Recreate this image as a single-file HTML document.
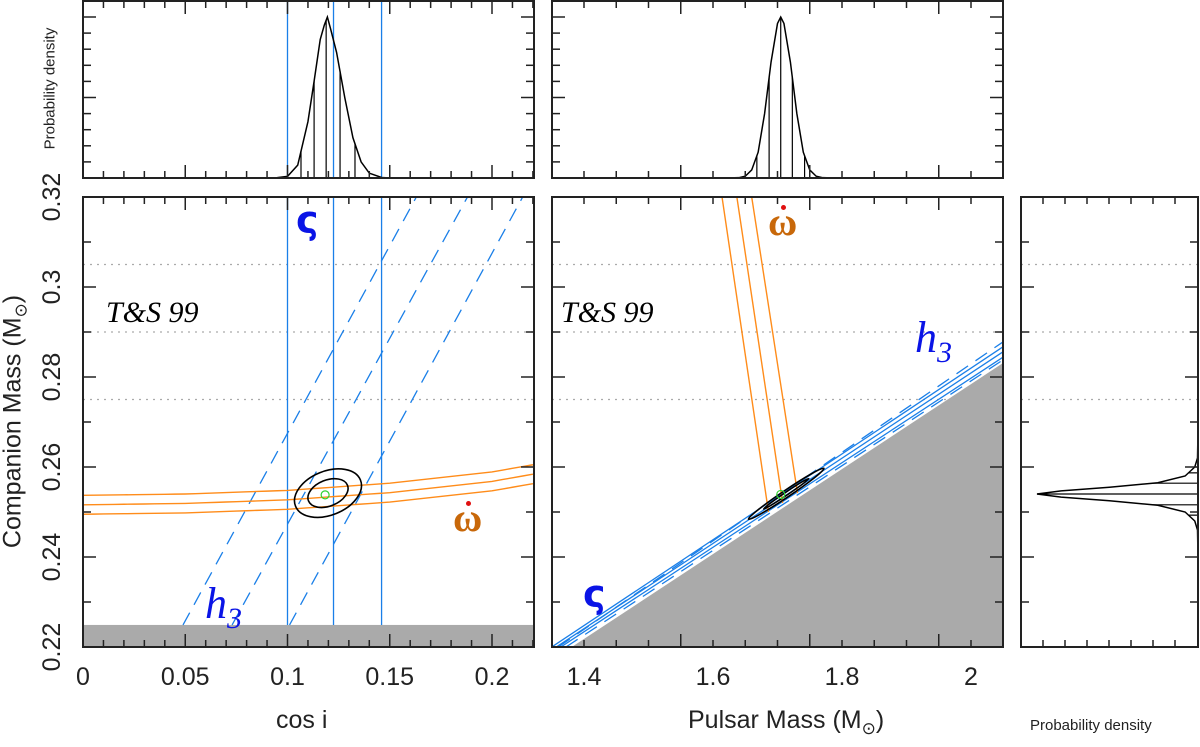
<!DOCTYPE html>
<html><head><meta charset="utf-8"><style>
html,body{margin:0;padding:0;background:#fff;width:1200px;height:747px;overflow:hidden;position:relative;}
svg{display:block;font-family:"Liberation Sans",sans-serif;}
</style></head><body>
<svg id="c" width="1200" height="747" viewBox="0 0 1200 747" xmlns="http://www.w3.org/2000/svg">
<defs>
<clipPath id="clipL"><rect x="83" y="197" width="451" height="450"/></clipPath>
<clipPath id="clipM"><rect x="552" y="197" width="451" height="450"/></clipPath>
</defs>
<g id="root"></g>
</svg>
<script>
// ---- data ----
const cosiTicks = [0, 0.05, 0.1, 0.15, 0.2];
const cosiTickLabels = ["0", "0.05", "0.1", "0.15", "0.2"];
const massTicks = [1.4, 1.6, 1.8, 2.0];
const massTickLabels = ["1.4", "1.6", "1.8", "2"];
const m2Ticks = [0.22, 0.24, 0.26, 0.28, 0.3, 0.32];
const m2TickLabels = ["0.22", "0.24", "0.26", "0.28", "0.3", "0.32"];
const t99Levels = [0.305, 0.29, 0.275];
const sigmaCosi = [0.1, 0.1225, 0.146];
const h3LeftBottom = [0.0489, 0.0729, 0.101];
const h3LeftTop = [0.163, 0.188, 0.215];
const omdotCosi = [0, 0.05, 0.1, 0.15, 0.2, 0.22];
const omdotM2Mid = [0.2516, 0.2519, 0.2527, 0.2543, 0.2568, 0.2584];
const omdotOffsets = [0.0021, 0, -0.0021];
const ellipseCenterCosi = 0.1198, ellipseCenterM2 = 0.2542;
const bestCosi = 0.1184, bestM2 = 0.2538;
const cosiPdfX = [0.09, 0.095, 0.1, 0.105, 0.11, 0.113, 0.116, 0.118, 0.1195, 0.121, 0.124, 0.128, 0.132, 0.136, 0.14, 0.146, 0.15];
const cosiPdfY = [0, 0.002, 0.01, 0.08, 0.35, 0.6, 0.86, 0.95, 1.0, 0.93, 0.78, 0.5, 0.25, 0.1, 0.03, 0.003, 0];
const cosiPdfLines = [0.1066, 0.1130, 0.1189, 0.1257, 0.1330];
const mpPdfX = [1.62, 1.64, 1.65, 1.66, 1.67, 1.68, 1.69, 1.70, 1.705, 1.71, 1.72, 1.73, 1.74, 1.75, 1.76, 1.77, 1.79];
const mpPdfY = [0, 0.002, 0.011, 0.05, 0.16, 0.40, 0.72, 0.96, 1.0, 0.96, 0.72, 0.40, 0.16, 0.05, 0.011, 0.002, 0];
const mpPdfLines = [1.668, 1.687, 1.705, 1.723, 1.742];
const m2PdfX = [0.240, 0.246, 0.248, 0.250, 0.2515, 0.2525, 0.2533, 0.254, 0.2547, 0.2555, 0.2565, 0.258, 0.260, 0.262, 0.268];
const m2PdfY = [0, 0.003, 0.02, 0.08, 0.25, 0.55, 0.85, 1.0, 0.85, 0.55, 0.25, 0.08, 0.02, 0.003, 0];
const m2PdfLines = [0.2600, 0.2587, 0.2564, 0.2540, 0.2516, 0.2493];
const omdotMidTop = [1.614, 1.637, 1.660];
const omdotMidBot = [1.686, 1.708, 1.731];
const omdotMidBotM2 = [0.2500, 0.2520, 0.2542];
const sigmaMidStart = [1.35, 1.357, 1.364];
const sigmaMidEndM2 = [0.2867, 0.2856, 0.2844];
const h3MidStart = [1.36, 1.372];
const h3MidEndM2 = [0.2878, 0.2838];
const grayStartMp = 1.381, grayEndM2 = 0.2831;
const midEllA = [1.655, 0.2484], midEllB = [1.772, 0.2597];
const bestMp = 1.705, bestM2mid = 0.2539;

// ---- axes ----
const xL = v => 83 + v * 2045;
const xM = v => 584 + (v - 1.4) * 645;
const yM = v => 647 - (v - 0.22) * 4500;
const yT = d => 178 - d * 161;
const xR = d => 1198 - d * 161;

const NS = "http://www.w3.org/2000/svg";
const root = document.getElementById('root');
function mk(tag, attrs, parent) {
  const e = document.createElementNS(NS, tag);
  for (const k in attrs) e.setAttribute(k, attrs[k]);
  (parent || root).appendChild(e);
  return e;
}
function interp(xs, ys, x, clamp) {
  if (x <= xs[0]) return clamp ? ys[0] : 0;
  if (x >= xs[xs.length - 1]) return clamp ? ys[ys.length - 1] : 0;
  for (let i = 0; i < xs.length - 1; i++) if (x >= xs[i] && x <= xs[i + 1]) return ys[i] + (ys[i + 1] - ys[i]) * (x - xs[i]) / (xs[i + 1] - xs[i]);
  return 0;
}

// gray regions
let g = mk('rect', {x: 83, y: yM(0.2249), width: 451, height: 647 - yM(0.2249), fill: '#aaaaaa'});


g = mk('polygon', {points: `${xM(grayStartMp)},647 1003,${yM(grayEndM2)} 1003,647`, fill: '#aaaaaa'});



// dotted T&S levels
t99Levels.forEach(v => {
  [[83, 534], [552, 1003], [1021, 1198]].forEach(([a, b]) => {
    const l = mk('line', {x1: a, x2: b, y1: yM(v), y2: yM(v), stroke: '#aaa', 'stroke-width': 1.2, 'stroke-dasharray': '2,5'});
    
    
  });
});

// ---- left panel ----
const gl = mk('g', {'clip-path': 'url(#clipL)'});
sigmaCosi.forEach(v => {
  const l = mk('line', {x1: xL(v), x2: xL(v), y1: 197, y2: yM(0.2249), stroke: '#1a7fe8', 'stroke-width': 1.3}, gl);
  
  
});
h3LeftBottom.forEach((b, i) => {
  const l = mk('line', {x1: xL(b), y1: yM(0.2249), x2: xL(h3LeftTop[i]), y2: yM(0.32), stroke: '#1a7fe8', 'stroke-width': 1.3, 'stroke-dasharray': '14,9'}, gl);
  
  
});
omdotOffsets.forEach(o => {
  const pts = [];
  for (let k = 0; k <= 44; k++) { const c = k * 0.005; pts.push(xL(c) + ',' + yM(interp(omdotCosi, omdotM2Mid, c, true) + o)); }
  const p = mk('polyline', {points: pts.join(' '), fill: 'none', stroke: '#ff8c1a', 'stroke-width': 1.4}, gl);
  
  
});
const ecx = xL(ellipseCenterCosi), ecy = yM(ellipseCenterM2);
[[35, 22], [21, 13]].forEach(([rx, ry]) => {
  const e = mk('ellipse', {cx: ecx, cy: ecy, rx: rx, ry: ry, fill: 'none', stroke: '#000', 'stroke-width': 1.6, transform: `rotate(-22 ${ecx} ${ecy})`}, gl);
  
  
});
g = mk('circle', {cx: xL(bestCosi), cy: yM(bestM2), r: 4, fill: 'none', stroke: '#2fd12f', 'stroke-width': 1.2}, gl);



// ---- middle panel ----
const gm = mk('g', {'clip-path': 'url(#clipM)'});
sigmaMidStart.forEach((s, i) => {
  const l = mk('line', {x1: xM(s), y1: 647, x2: 1003, y2: yM(sigmaMidEndM2[i]), stroke: '#1a7fe8', 'stroke-width': 1.3}, gm);
  
  
});
h3MidStart.forEach((s, i) => {
  const l = mk('line', {x1: xM(s), y1: 647, x2: 1003, y2: yM(h3MidEndM2[i]), stroke: '#1a7fe8', 'stroke-width': 1.3, 'stroke-dasharray': '14,9'}, gm);
  
  
});
omdotMidTop.forEach((t, i) => {
  const l = mk('line', {x1: xM(t), y1: 197, x2: xM(omdotMidBot[i]), y2: yM(omdotMidBotM2[i]), stroke: '#ff8c1a', 'stroke-width': 1.4}, gm);
  
  
});
{
  const ax = xM(midEllA[0]), ay = yM(midEllA[1]), bx = xM(midEllB[0]), by = yM(midEllB[1]);
  const cx = (ax + bx) / 2, cy = (ay + by) / 2, len = Math.hypot(bx - ax, by - ay) / 2, ang = Math.atan2(by - ay, bx - ax) * 180 / Math.PI;
  let e = mk('ellipse', {cx, cy, rx: len, ry: 3.5, fill: 'none', stroke: '#000', 'stroke-width': 1.6, transform: `rotate(${ang} ${cx} ${cy})`}, gm);
  
  
  e = mk('ellipse', {cx, cy, rx: len * 0.6, ry: 1.5, fill: 'none', stroke: '#000', 'stroke-width': 1.6, transform: `rotate(${ang} ${cx} ${cy})`}, gm);
  
  
}
g = mk('circle', {cx: xM(bestMp), cy: yM(bestM2mid), r: 4, fill: 'none', stroke: '#2fd12f', 'stroke-width': 1.2}, gm);



// ---- pdf curves ----
function pdfTop(xs, ys, lines, xf, name) {
  const p = mk('polyline', {points: xs.map((x, i) => xf(x) + ',' + yT(ys[i])).join(' '), fill: 'none', stroke: '#000', 'stroke-width': 1.5});
  
  
  lines.forEach(v => {
    const l = mk('line', {x1: xf(v), x2: xf(v), y1: 178, y2: yT(interp(xs, ys, v)), stroke: '#000', 'stroke-width': 1.2});
    
    
  });
}
sigmaCosi.forEach(v => {
  const l = mk('line', {x1: xL(v), x2: xL(v), y1: 1, y2: 178, stroke: '#1a7fe8', 'stroke-width': 1.3});
  
  
});
pdfTop(cosiPdfX, cosiPdfY, cosiPdfLines, xL, 'cosi-pdf-curve');
pdfTop(mpPdfX, mpPdfY, mpPdfLines, xM, 'pulsar-mass-pdf-curve');
{
  const p = mk('polyline', {points: m2PdfX.map((v, i) => xR(m2PdfY[i]) + ',' + yM(v)).join(' '), fill: 'none', stroke: '#000', 'stroke-width': 1.5});
  
  
  m2PdfLines.forEach(v => {
    const l = mk('line', {x1: 1198, x2: xR(interp(m2PdfX, m2PdfY, v)), y1: yM(v), y2: yM(v), stroke: '#000', 'stroke-width': 1.2});
    
    
  });
}

// ---- frames & ticks ----
function frame(x, y, w, h, name) {
  const r = mk('rect', {x, y, width: w, height: h, fill: 'none', stroke: '#222', 'stroke-width': 2});
  
  
}
function tickX(x0, x1, y0, y1, f, from, to, step, majorEvery, both) {
  const n = Math.round((to - from) / step);
  for (let i = 0; i <= n; i++) {
    const v = from + i * step, x = f(v);
    if (x < x0 - 0.5 || x > x1 + 0.5) continue;
    const L = (i % majorEvery === 0) ? 13 : 7;
    mk('line', {x1: x, x2: x, y1: y1, y2: y1 - L, stroke: '#222', 'stroke-width': 1.5});
    if (both) mk('line', {x1: x, x2: x, y1: y0, y2: y0 + L, stroke: '#222', 'stroke-width': 1.5});
  }
}
function tickY(x0, x1, f, from, to, step, majorEvery) {
  const n = Math.round((to - from) / step);
  for (let i = 0; i <= n; i++) {
    const y = f(from + i * step);
    const L = (i % majorEvery === 0) ? 13 : 8;
    mk('line', {x1: x0, x2: x0 + L, y1: y, y2: y, stroke: '#222', 'stroke-width': 1.5});
    mk('line', {x1: x1, x2: x1 - L, y1: y, y2: y, stroke: '#222', 'stroke-width': 1.5});
  }
}
frame(83, 1, 451, 177, 'cosi-pdf-panel');
frame(552, 1, 451, 177, 'pulsar-mass-pdf-panel');
frame(83, 197, 451, 450, 'cosi-m2-panel');
frame(552, 197, 451, 450, 'mp-m2-panel');
frame(1021, 197, 177, 450, 'companion-mass-pdf-panel');
tickX(83, 534, 197, 647, xL, 0, 0.22, 0.01, 5, true);
tickX(83, 534, 1, 178, xL, 0, 0.22, 0.01, 5, true);
tickX(552, 1003, 197, 647, xM, 1.35, 2.05, 0.05, 4, true);
tickX(552, 1003, 1, 178, xM, 1.35, 2.05, 0.05, 4, true);
tickY(83, 534, yM, 0.22, 0.32, 0.01, 2);
tickY(552, 1003, yM, 0.22, 0.32, 0.01, 2);
tickY(1021, 1198, yM, 0.22, 0.32, 0.01, 2);
tickY(83, 534, d => 178 - d * 161, 0, 1.0, 0.1, 5);
tickY(552, 1003, d => 178 - d * 161, 0, 1.0, 0.1, 5);
for (let i = 1; i < 8; i++) {
  const x = 1021 + i * 22;
  mk('line', {x1: x, x2: x, y1: 647, y2: 640, stroke: '#222', 'stroke-width': 1.5});
  mk('line', {x1: x, x2: x, y1: 197, y2: 204, stroke: '#222', 'stroke-width': 1.5});
}

// tick labels
function txt(x, y, s, attrs, name) {
  const t = mk('text', Object.assign({x, y, fill: '#222'}, attrs));
  t.textContent = s;
  
  
  return t;
}
cosiTicks.forEach((v, i) => txt(xL(v), 685, cosiTickLabels[i], {'font-size': 25, 'text-anchor': 'middle'}, 'x-tick-label'));
massTicks.forEach((v, i) => txt(xM(v), 685, massTickLabels[i], {'font-size': 25, 'text-anchor': 'middle'}, 'x-tick-label'));
m2Ticks.forEach((v, i) => txt(60, yM(v), m2TickLabels[i], {'font-size': 25, 'text-anchor': 'middle', transform: `rotate(-90 60 ${yM(v)})`}, 'y-tick-label'));
</script>
<div style="position:absolute;left:0;top:0;width:1200px;height:747px;overflow:hidden;pointer-events:none;font-family:'Liberation Sans',sans-serif;">
  <div style="position:absolute;left:276px;top:706px;font-size:25px;color:#222;white-space:nowrap;">cos i</div>
  <div style="position:absolute;left:688px;top:706px;font-size:25px;color:#222;white-space:nowrap;">Pulsar Mass (M<sub style="font-size:17px">⊙</sub>)</div>
  <div style="position:absolute;left:-135px;top:405px;width:300px;text-align:center;font-size:25px;color:#222;white-space:nowrap;transform:rotate(-90deg);">Companion Mass (M<sub style="font-size:17px">⊙</sub>)</div>
  <div style="position:absolute;left:-25px;top:80px;width:150px;text-align:center;font-size:15px;color:#222;white-space:nowrap;transform:rotate(-90deg);">Probability density</div>
  <div style="position:absolute;left:1030px;top:717px;font-size:15px;color:#222;white-space:nowrap;">Probability density</div>
  <div style="position:absolute;left:106px;top:296px;font-family:'Liberation Serif',serif;font-style:italic;font-size:30px;color:#000;white-space:nowrap;">T&amp;S 99</div>
  <div style="position:absolute;left:561px;top:296px;font-family:'Liberation Serif',serif;font-style:italic;font-size:30px;color:#000;white-space:nowrap;">T&amp;S 99</div>
  <div style="position:absolute;left:296px;top:198px;font-family:'DejaVu Sans',sans-serif;font-weight:bold;font-size:38px;color:#0a14e6;">ς</div>
  <div style="position:absolute;left:583px;top:572px;font-family:'DejaVu Sans',sans-serif;font-weight:bold;font-size:38px;color:#0a14e6;">ς</div>
  <div style="position:absolute;left:205px;top:578px;font-family:'Liberation Serif',serif;font-style:italic;font-size:44px;color:#0a14e6;white-space:nowrap;">h<sub style="font-size:30px">3</sub></div>
  <div style="position:absolute;left:915px;top:312px;font-family:'Liberation Serif',serif;font-style:italic;font-size:44px;color:#0a14e6;white-space:nowrap;">h<sub style="font-size:30px">3</sub></div>
  <div style="position:absolute;left:453px;top:494px;font-family:'Liberation Serif',serif;font-weight:bold;font-size:40px;color:#c8680a;">ω<span style="position:absolute;left:13px;top:7px;width:5px;height:5px;border-radius:50%;background:#e01010;"></span></div>
  <div style="position:absolute;left:768px;top:198px;font-family:'Liberation Serif',serif;font-weight:bold;font-size:40px;color:#c8680a;">ω<span style="position:absolute;left:13px;top:7px;width:5px;height:5px;border-radius:50%;background:#e01010;"></span></div>
</div>
</body></html>
